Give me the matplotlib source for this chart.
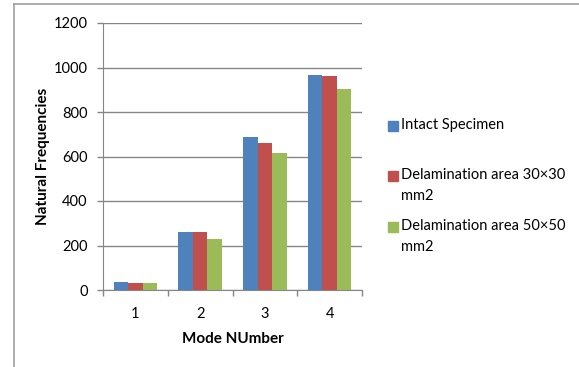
import matplotlib.pyplot as plt
import numpy as np
from matplotlib.patches import Rectangle
from matplotlib.lines import Line2D

modes = ['1', '2', '3', '4']
series = ['Intact Specimen', 'Delamination area 30×30\nmm2', 'Delamination area 50×50\nmm2']
intact = [35, 262, 689, 965]
delam_30 = [30, 262, 659, 960]
delam_50 = [30, 229, 614, 903]
colors = ['#4F81BD', '#C0504D', '#9BBB59']

W, H = 579, 367
plt.rcParams['font.family'] = ['Lato', 'DejaVu Sans']
fs = 10.5

fig = plt.figure(figsize=(W / 100, H / 100), dpi=100)
ax = fig.add_axes([103 / W, (H - 290) / H, 259 / W, 267 / H])

x = np.arange(len(modes))
bw = 0.225
for i, vals in enumerate([intact, delam_30, delam_50]):
    ax.bar(x + (i - 1) * bw, vals, bw, color=colors[i], zorder=3)

ax.set_xlim(-0.5, len(modes) - 0.5)
ax.set_ylim(0, 1200)
ax.set_yticks(range(0, 1201, 200))
ax.set_xticks(x)
ax.set_xticklabels(modes)
ax.set_xticks(np.arange(-0.5, len(modes), 1), minor=True)
ax.tick_params(axis='x', which='major', length=0, pad=12, labelsize=fs)
ax.tick_params(axis='x', which='minor', length=4, color='#868686', width=1)
ax.tick_params(axis='y', length=4, color='#868686', width=1, pad=7, labelsize=fs)
ax.grid(axis='y', color='#868686', linewidth=1, zorder=0)
for s in ['top', 'right']:
    ax.spines[s].set_visible(False)
for s in ['left', 'bottom']:
    ax.spines[s].set_color('#868686')
ax.set_xlabel('Mode NUmber', fontweight='bold', fontsize=fs + 0.5, labelpad=8)
ax.set_ylabel('Natural Frequencies', fontweight='bold', fontsize=fs + 0.5, labelpad=3)

# legend, Excel style: marker aligned with first text line
legend_y = [126, 176, 227]
for lbl, c, yy in zip(series, colors, legend_y):
    fig.patches.append(Rectangle((388 / W, (H - yy - 5) / H), 10 / W, 10 / H,
                                 transform=fig.transFigure, color=c))
    fig.text(401 / W, (H - yy + 8) / H, lbl, fontsize=fs, va='top', ha='left',
             linespacing=1.6)

# outer frame
fig.add_artist(Line2D([13.5 / W, 13.5 / W], [0, (H - 4) / H], color='#a0a0a0', lw=1.2))
fig.add_artist(Line2D([13.5 / W, 1], [(H - 4) / H, (H - 4) / H], color='#a0a0a0', lw=1.2))

fig.savefig('out.png', dpi=100)
